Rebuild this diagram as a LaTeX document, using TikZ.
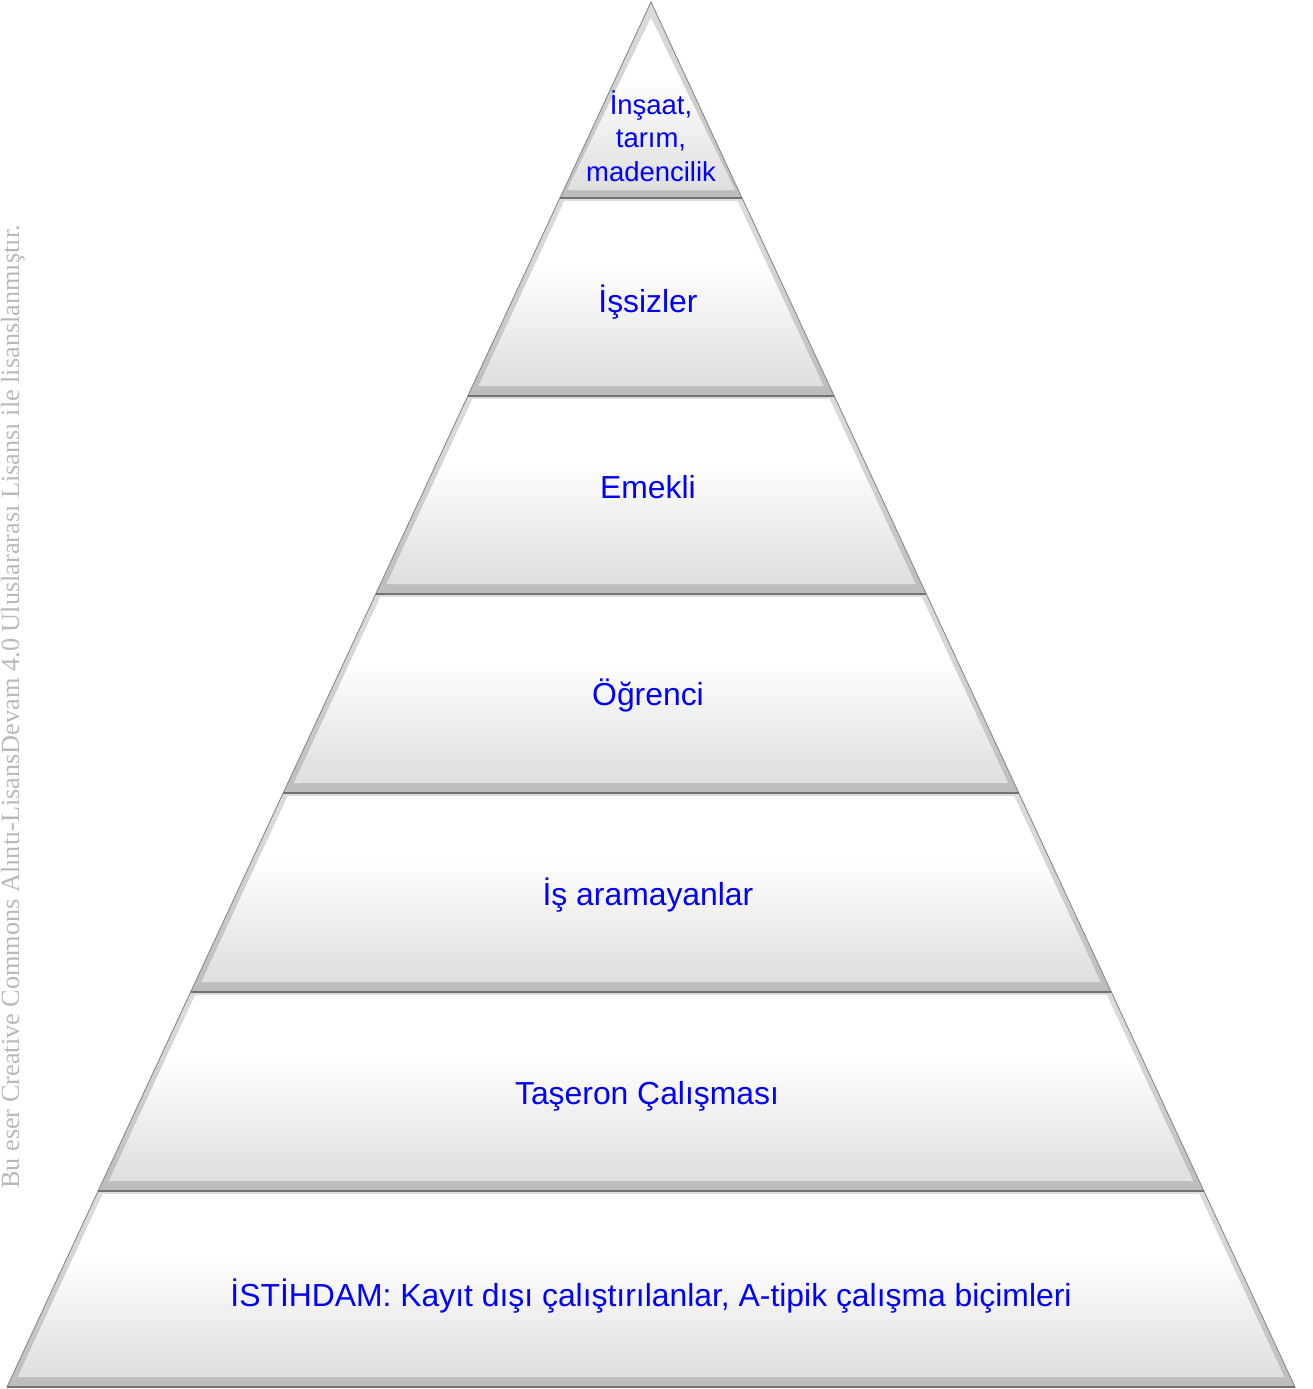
\documentclass[tikz,border=0pt]{standalone}
\usepackage{fontspec}
\setmainfont{Liberation Sans}
\newfontfamily\wmfont{Liberation Serif}
\pgfdeclareverticalshading{layerfill}{100bp}{color(0bp)=(black!19); color(30bp)=(black!11); color(58bp)=(white); color(100bp)=(white)}
\pgfdeclareverticalshading{layerbevel}{100bp}{color(0bp)=(black!42); color(12bp)=(black!30); color(60bp)=(black!16); color(100bp)=(black!10)}
\tikzset{
  outerlayer/.style={shading=layerbevel, draw=black!45, line width=0.7pt},
  innerlayer/.style={shading=layerfill},
  sepline/.style={draw=black!55, line width=1.6pt},
  lbl/.style={text=blue, font=\fontsize{23.9}{28}\selectfont, align=center, inner sep=0pt},
  toplbl/.style={lbl, font=\fontsize{20.6}{25}\selectfont},
  wm/.style={text=gray!55, font=\wmfont\fontsize{19.7}{22}\selectfont, rotate=90, inner sep=0pt, anchor=base}
}
\begin{document}
\begin{tikzpicture}[x=0.75pt,y=-0.75pt]
\useasboundingbox (0,0) rectangle (1313,1389);
\def\k{0.46498}
% layer 1 (triangle)
\path[outerlayer] (651,2) -- (742,198) -- (560,198) -- cycle;
\path[innerlayer] (651,18) -- (735,190) -- (567,190) -- cycle;
% layers 2-7
\foreach \ya/\yb in {198/396, 396/594, 594/793, 793/992, 992/1191, 1191/1387} {
  \pgfmathsetmacro\oa{\k*(\ya-2)}
  \pgfmathsetmacro\ob{\k*(\yb-2)}
  \pgfmathsetmacro\ia{\k*(\ya+3-2)-6}
  \pgfmathsetmacro\ib{\k*(\yb-10-2)-6}
  \path[outerlayer] (651-\oa,\ya) -- (651+\oa,\ya) -- (651+\ob,\yb) -- (651-\ob,\yb) -- cycle;
  \path[innerlayer] (651-\ia,\ya+3) -- (651+\ia,\ya+3) -- (651+\ib,\yb-10) -- (651-\ib,\yb-10) -- cycle;
}
% separators
\foreach \ya/\xa/\xb in {198/560/742, 396/468/834, 594/376/926, 793/283/1019, 992/191/1111, 1191/98/1204, 1387/7/1295}
  \draw[sepline] (\xa,\ya) -- (\xb,\ya);
% labels
\node[toplbl] (l1) at (651,136) {İnşaat,\\tarım,\\madencilik};
\node[lbl] (l2) at (648,302) {İşsizler};
\node[lbl] (l3) at (648,487) {Emekli};
\node[lbl] (l4) at (648,695) {Öğrenci};
\node[lbl] (l5) at (648,895) {İş aramayanlar};
\node[lbl] (l6) at (647,1096) {Taşeron Çalışması};
\node[lbl] (l7) at (651,1296) {İSTİHDAM: Kayıt dışı çalıştırılanlar, A-tipik çalışma biçimleri};
% watermark
\node[wm] (wmk) at (19,707) {Bu eser Creative Commons Alıntı-LisansDevam 4.0 Uluslararası Lisansı ile lisanslanmıştır.};
\end{tikzpicture}
\end{document}
